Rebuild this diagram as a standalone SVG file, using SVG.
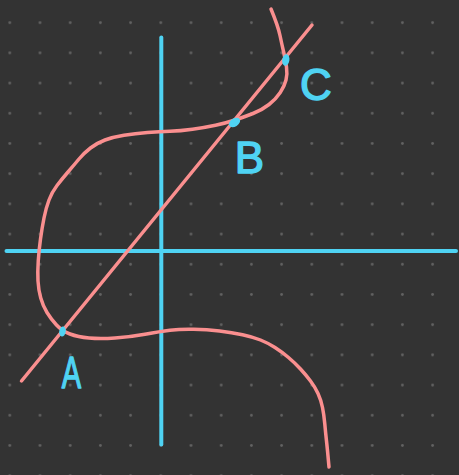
<svg xmlns="http://www.w3.org/2000/svg" width="459" height="475" viewBox="0 0 459 475">
  <style>
    .axis { stroke: #4fd3f3; stroke-width: 4; stroke-linecap: round; fill: none; }
    .curve { stroke: #fa8f8f; stroke-width: 3.5; stroke-linecap: round; stroke-linejoin: round; fill: none; }
    .pt { fill: #4fd3f3; }
    .lbl { fill: #4fd3f3; stroke: #4fd3f3; stroke-width: 1.4; stroke-linejoin: round; font-family: "Liberation Sans", Arial, sans-serif; font-size: 44px; text-anchor: middle; }
  </style>
  <defs>
    <pattern id="grid" patternUnits="userSpaceOnUse" x="-5.3" y="7.6" width="30.2" height="30.2">
      <circle cx="15.1" cy="15.1" r="1.4" fill="#626262"/>
    </pattern>
  </defs>
  <rect width="459" height="475" fill="#333333"/>
  <rect width="459" height="475" fill="url(#grid)"/>

  <g id="axes">
    <line id="y-axis" class="axis" x1="161.3" y1="37.5" x2="161.3" y2="444.5"/>
    <line id="x-axis" class="axis" x1="6.5" y1="251" x2="456" y2="251"/>
  </g>

  <g id="connectors">
    <path id="elliptic-curve" class="curve" d="M271 9 Q278 26 280 35.5 Q282 45 283.75 52.5 Q285.5 60 286.5 67 Q287.5 74 286 80 Q284.5 86 280.25 92.5 Q276 99 269 104.5 Q262 110 253 113.5 Q244 117 235 120 Q226 123 215.5 125.25 Q205 127.5 192.5 129.25 Q180 131 170 131.25 Q160 131.5 147.5 132.5 Q135 133.5 124 135.25 Q113 137 105 140 Q97 143 90.5 148 Q84 153 79 159 Q74 165 68 172 Q62 179 57 185.5 Q52 192 49 200 Q46 208 44 218 Q42 228 40.5 239 Q39 250 38.25 261 Q37.5 272 38 281 Q38.5 290 40.75 298 Q43 306 47 312.5 Q51 319 56.5 325 Q62 331 70 334 Q78 337 89 338 Q100 339 115 338 Q130 337 145 334.25 Q160 331.5 170 330.25 Q180 329 193.5 329.25 Q207 329.5 219.5 331 Q232 332.5 242.5 334.75 Q253 337 260.5 340 Q268 343 275 347.5 Q282 352 288.5 357.5 Q295 363 300.5 369 Q306 375 310.5 381 Q315 387 318 393.5 Q321 400 322.5 407.5 Q324 415 324.75 423.5 Q325.5 432 326.5 441 Q327.5 450 329 467"/>
    <line id="secant-line" class="curve" x1="21.5" y1="381" x2="312" y2="25"/>
  </g>

  <g id="point-A">
    <ellipse class="pt" cx="62.5" cy="331.5" rx="3.3" ry="5" transform="rotate(10 62.5 331.5)"/>
    <text class="lbl" transform="translate(71.5 388) scale(0.66 1)" x="0" y="0">A</text>
  </g>
  <g id="point-B">
    <ellipse class="pt" cx="234.5" cy="122.5" rx="6.2" ry="4" transform="rotate(-32 234.5 122.5)"/>
    <text class="lbl" x="249.5" y="173">B</text>
  </g>
  <g id="point-C">
    <ellipse class="pt" cx="285.8" cy="60" rx="3.6" ry="5.8" transform="rotate(10 285.8 60)"/>
    <text class="lbl" x="316" y="100">C</text>
  </g>
</svg>
